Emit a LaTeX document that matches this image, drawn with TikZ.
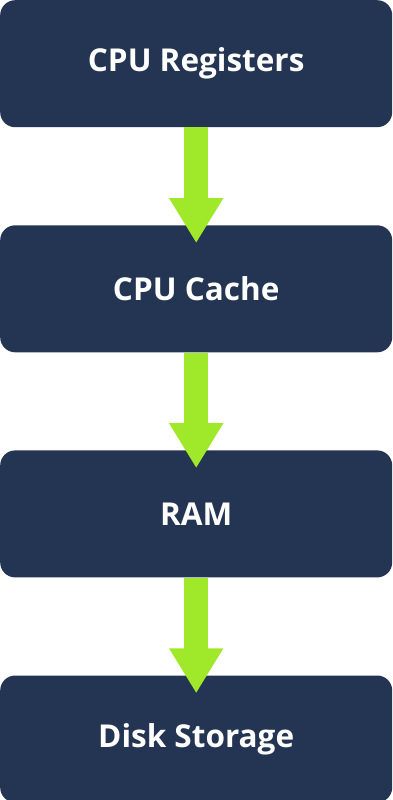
\documentclass[tikz,border=0pt]{standalone}
\usepackage{fontspec}
\setmainfont{Open Sans}
\usetikzlibrary{positioning,arrows.meta}

\definecolor{boxnavy}{RGB}{35,53,82}
\definecolor{flowgreen}{RGB}{160,232,42}

\begin{document}
\begin{tikzpicture}[
    level/.style={fill=boxnavy, rounded corners=15pt, minimum width=392pt, minimum height=127pt,
        inner sep=0pt, text=white, font=\fontsize{31.5}{36}\selectfont\bfseries},
    flow/.style={draw=flowgreen, line width=24pt,
        -{Triangle[width=51pt,length=45pt]}, shorten >=-18pt}
]

\useasboundingbox (0,0) rectangle (392pt,-800pt);

% CPU Registers
\node[level, anchor=north west] (reg) at (0,0) {CPU Registers};

% CPU Cache
\node[level, below=97.7pt of reg] (cache) {CPU Cache};

% RAM
\node[level, below=97.7pt of cache] (ram) {RAM};

% Disk Storage
\node[level, below=97.7pt of ram] (disk) {Disk Storage};

% Arrows
\draw[flow] (reg.south) -- (cache.north);
\draw[flow] (cache.south) -- (ram.north);
\draw[flow] (ram.south) -- (disk.north);

\end{tikzpicture}
\end{document}
